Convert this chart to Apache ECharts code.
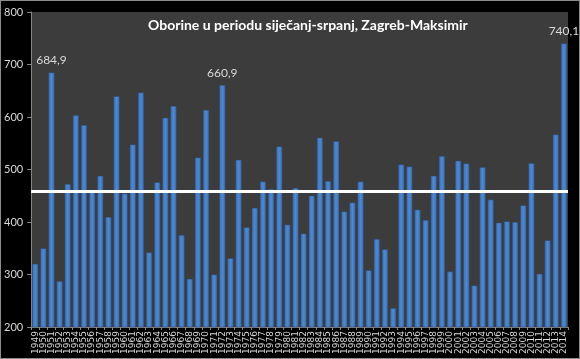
<!DOCTYPE html>
<html>
<head>
<meta charset="utf-8">
<script src="https://cdn.jsdelivr.net/npm/echarts@6/dist/echarts.min.js"></script>
<style>
html,body{margin:0;padding:0;background:#000;}
#c{width:580px;height:359px;box-sizing:border-box;border:1px solid #8c8c8c;background:#000;}
</style>
</head>
<body>
<div id="c"></div>
<script>
var titleText = 'Oborine u periodu siječanj-srpanj, Zagreb-Maksimir';
var years = ['1949','1950','1951','1952','1953','1954','1955','1956','1957','1958',
'1959','1960','1961','1962','1963','1964','1965','1966','1967','1968',
'1969','1970','1971','1972','1973','1974','1975','1976','1977','1978',
'1979','1980','1981','1982','1983','1984','1985','1986','1987','1988',
'1989','1990','1991','1992','1993','1994','1995','1996','1997','1998',
'1999','2000','2001','2002','2003','2004','2005','2006','2007','2008',
'2009','2010','2011','2012','2013','2014'];
var precipitation = [320.4,349.7,684.9,287.3,472.6,603.2,584.7,457.0,487.9,409.6,
639.5,454.1,547.8,646.5,342.0,475.8,598.7,621.0,375.2,291.7,
522.9,613.4,300.0,660.9,331.0,518.5,390.0,427.0,477.0,463.0,
544.0,395.0,465.0,378.0,450.0,560.5,478.0,554.0,420.0,437.0,
477.0,308.0,367.5,348.0,236.0,509.6,505.7,423.6,403.8,488.0,
525.5,305.7,516.6,511.5,279.0,504.5,442.7,398.7,401.3,400.0,
431.8,512.0,301.3,365.0,566.9,740.1];
var labelledYears = ['1951','1972','2014'];
var meanValue = 458;
var yTicks = [200,300,400,500,600,700,800];

var chart = echarts.init(document.getElementById('c'), null, {renderer:'canvas'});
var barData = precipitation.map(function(v,i){
  var item = {value:v};
  if (labelledYears.indexOf(years[i]) >= 0) {
    item.label = {show:true};
  }
  return item;
});
chart.setOption({
  backgroundColor:'#000',
  animation:false,
  title:{
    text:titleText,
    left:142, top:12,
    textStyle:{color:'#ffffff', fontFamily:'Lato', fontWeight:'bold', fontSize:14}
  },
  grid:{left:30, right:11, top:11, bottom:31, show:true, backgroundColor:'#3c3c3c', borderWidth:0},
  xAxis:{
    type:'category',
    data:years,
    axisLine:{lineStyle:{color:'#868686'}},
    axisTick:{show:true, interval:0, length:3, lineStyle:{color:'#868686'}},
    axisLabel:{interval:0, rotate:90, color:'#d6d6d6', fontSize:9, fontFamily:'DejaVu Sans', margin:4}
  },
  yAxis:{
    type:'value',
    min:yTicks[0], max:yTicks[yTicks.length-1], interval:100,
    axisLine:{show:true, lineStyle:{color:'#868686'}},
    axisTick:{show:true, length:4, lineStyle:{color:'#868686'}},
    splitLine:{show:false},
    axisLabel:{color:'#d9d9d9', fontSize:11, fontFamily:'Lato', margin:8}
  },
  series:[{
    type:'bar',
    data:barData,
    barCategoryGap:'24%',
    itemStyle:{
      color:new echarts.graphic.LinearGradient(0,0,1,0,[
        {offset:0,color:'#3b6cad'},
        {offset:0.5,color:'#5089cf'},
        {offset:1,color:'#3b6cad'}
      ]),
      borderColor:'#2a4a78', borderWidth:0.5
    },
    label:{
      show:false, position:'top', distance:6,
      color:'#d9d9d9', fontSize:12, fontFamily:'Lato',
      formatter:function(p){return String(p.value).replace('.',',');}
    },
    markLine:{
      silent:true, symbol:'none',
      label:{show:false},
      lineStyle:{color:'#ffffff', width:3, type:'solid'},
      data:[{yAxis:meanValue}]
    }
  }]
});
</script>
</body>
</html>
